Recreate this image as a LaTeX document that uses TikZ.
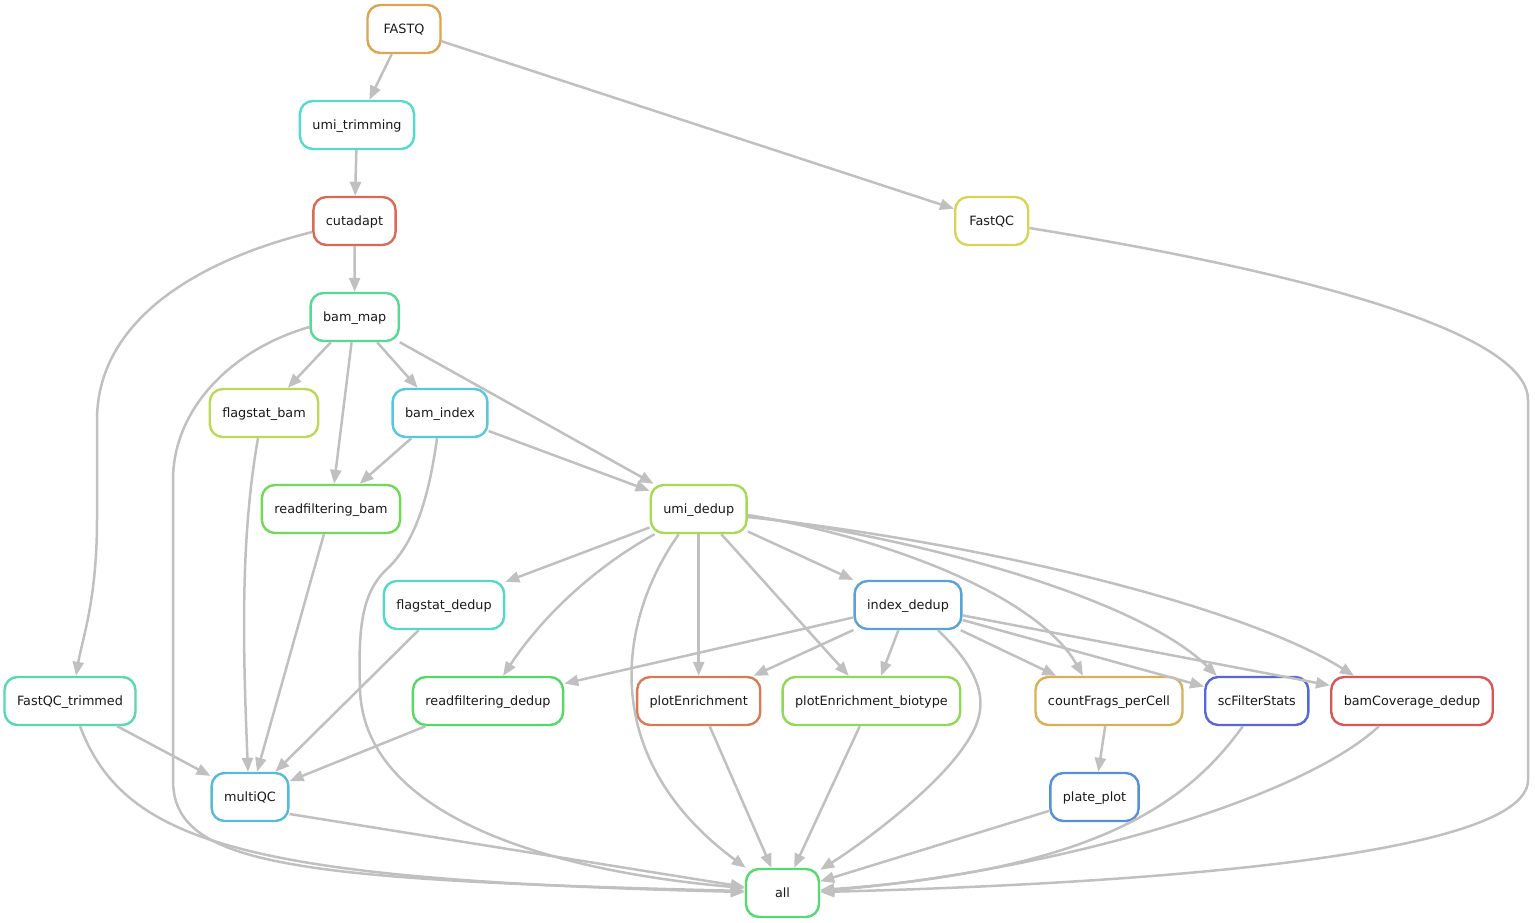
\documentclass[tikz,border=0pt]{standalone}
\usepackage{fontspec}
\setmainfont{DejaVu Sans}
\usetikzlibrary{arrows.meta,calc}
\definecolor{edgegray}{HTML}{C0C0C0}
\definecolor{cFASTQ}{HTML}{DBA552}
\definecolor{cumitrim}{HTML}{56D9CF}
\definecolor{ccutadapt}{HTML}{D96A56}
\definecolor{cFastQC}{HTML}{D9D456}
\definecolor{cbammap}{HTML}{56D994}
\definecolor{cflagbam}{HTML}{BCD956}
\definecolor{cbamindex}{HTML}{56C9D9}
\definecolor{crfbam}{HTML}{72D956}
\definecolor{cumidedup}{HTML}{A6D956}
\definecolor{cflagdedup}{HTML}{56D9C4}
\definecolor{cindexdedup}{HTML}{56A2D9}
\definecolor{cFastQCtrim}{HTML}{56D9AC}
\definecolor{crfdedup}{HTML}{56D964}
\definecolor{cplotenr}{HTML}{D97A56}
\definecolor{cplotbio}{HTML}{90D956}
\definecolor{ccount}{HTML}{D9B056}
\definecolor{cscfilter}{HTML}{5668D9}
\definecolor{cbamcov}{HTML}{D95656}
\definecolor{cmultiqc}{HTML}{56BAD9}
\definecolor{cplate}{HTML}{5690D9}
\definecolor{call}{HTML}{56D970}
\begin{document}
\begin{tikzpicture}[x=1pt,y=-1pt,
  rule/.style={draw=#1, line width=2.4pt, rounded corners=13pt, minimum width=73pt,
    minimum height=48pt, inner xsep=12.5pt, text height=9.3pt, text depth=0pt,
    font=\fontsize{12.8}{15}\selectfont, text=black!90},
  edge/.style={draw=edgegray, line width=2.5pt, -{Triangle[length=14pt,width=11pt]}}]
\useasboundingbox (0,0) rectangle (1535,923);

\node[rule=cFASTQ] (FASTQ) at (404,29) {FASTQ};
\node[rule=cumitrim] (umi_trimming) at (357,125) {umi\_trimming};
\node[rule=ccutadapt] (cutadapt) at (354.5,221) {cutadapt};
\node[rule=cFastQC] (FastQC) at (991.7,221) {FastQC};
\node[rule=cbammap] (bam_map) at (354.7,317) {bam\_map};
\node[rule=cflagbam] (flagstat_bam) at (264,413) {flagstat\_bam};
\node[rule=cbamindex] (bam_index) at (440,413) {bam\_index};
\node[rule=crfbam] (readfiltering_bam) at (331,509) {readfiltering\_bam};
\node[rule=cumidedup] (umi_dedup) at (698.7,509) {umi\_dedup};
\node[rule=cflagdedup] (flagstat_dedup) at (444,605) {flagstat\_dedup};
\node[rule=cindexdedup] (index_dedup) at (908,605) {index\_dedup};
\node[rule=cFastQCtrim] (FastQC_trimmed) at (70,701) {FastQC\_trimmed};
\node[rule=crfdedup] (readfiltering_dedup) at (488,701) {readfiltering\_dedup};
\node[rule=cplotenr] (plotEnrichment) at (698.7,701) {plotEnrichment};
\node[rule=cplotbio] (plotEnrichment_biotype) at (871.4,701) {plotEnrichment\_biotype};
\node[rule=ccount] (countFrags_perCell) at (1109,701) {countFrags\_perCell};
\node[rule=cscfilter] (scFilterStats) at (1256.8,701) {scFilterStats};
\node[rule=cbamcov] (bamCoverage_dedup) at (1412,701) {bamCoverage\_dedup};
\node[rule=cmultiqc] (multiQC) at (250,797) {multiQC};
\node[rule=cplate] (plate_plot) at (1094.5,797) {plate\_plot};
\node[rule=call] (all) at (782.5,893) {all};

% straight edges
\draw[edge] (FASTQ) -- (umi_trimming);
\draw[edge] (FASTQ) -- (FastQC);
\draw[edge] (umi_trimming) -- (cutadapt);
\draw[edge] (cutadapt) -- (bam_map);
\draw[edge] (bam_map) -- (flagstat_bam);
\draw[edge] (bam_map) -- (bam_index);
\draw[edge] (bam_map) -- (readfiltering_bam);
\draw[edge] (bam_map) -- (umi_dedup);
\draw[edge] (bam_index) -- (readfiltering_bam);
\draw[edge] (bam_index) -- (umi_dedup);
\draw[edge] (readfiltering_bam) -- (multiQC);
\draw[edge] (umi_dedup) -- (flagstat_dedup);
\draw[edge] (umi_dedup) -- (plotEnrichment);
\draw[edge] (umi_dedup) -- (plotEnrichment_biotype);
\draw[edge] (umi_dedup) -- (index_dedup);
\draw[edge] (index_dedup) -- (readfiltering_dedup);
\draw[edge] (index_dedup) -- (plotEnrichment);
\draw[edge] (index_dedup) -- (plotEnrichment_biotype);
\draw[edge] (index_dedup) -- (countFrags_perCell);
\draw[edge] (index_dedup) -- (scFilterStats);
\draw[edge] (index_dedup) -- (bamCoverage_dedup);
\draw[edge] (flagstat_dedup) -- (multiQC);
\draw[edge] (readfiltering_dedup) -- (multiQC);
\draw[edge] (FastQC_trimmed) -- (multiQC);
\draw[edge] ($(multiQC.east)+(0,17)$) -- (all);
\draw[edge] (plotEnrichment) -- (all);
\draw[edge] (plotEnrichment_biotype) -- (all);
\draw[edge] (countFrags_perCell) -- (plate_plot);
\draw[edge] (plate_plot) -- (all);

% curved edges
\draw[edge] ($(cutadapt.west)+(0,11)$) .. controls (180,265) and (97,330) .. (97,420)
  -- (97,520) .. controls (97,600) and (82,640) .. ($(FastQC_trimmed.north)+(6,0)$);
\draw[edge] ($(bam_map.west)+(0,10)$) .. controls (230,350) and (173,410) .. (173,480)
  -- (173,780) .. controls (173,865) and (290,880) .. ($(all.west)+(0,-2)$);
\draw[edge] ($(flagstat_bam.south)+(-6,0)$) .. controls (240,540) and (243,650) .. ($(multiQC.north)+(-2,0)$);
\draw[edge] ($(bam_index.south)+(-3,0)$) .. controls (428,505) and (412,545) .. (388,568)
  .. controls (362,592) and (358,625) .. (360,690)
  .. controls (365,820) and (560,872) .. ($(all.west)+(0,-5)$);
\draw[edge] ($(umi_dedup.south west)+(5,0)$) .. controls (590,570) and (540,620) .. ($(readfiltering_dedup.north)+(15,0)$);
\draw[edge] ($(umi_dedup.south)+(-20,0)$) .. controls (615,625) and (600,760) .. ($(all.north west)+(1,0)$);
\draw[edge] ($(umi_dedup.east)+(0,6)$) .. controls (900,540) and (1040,600) .. ($(countFrags_perCell.north)+(-26,0)$);
\draw[edge] ($(umi_dedup.east)+(0,7)$) .. controls (930,540) and (1140,600) .. ($(scFilterStats.north)+(-40,0)$);
\draw[edge] ($(umi_dedup.east)+(0,8)$) .. controls (1000,545) and (1250,610) .. ($(bamCoverage_dedup.north)+(-58,0)$);
\draw[edge] ($(index_dedup.south)+(30,0)$) .. controls (990,680) and (988,712) .. (965,745)
  .. controls (935,790) and (860,845) .. ($(all.north east)+(0,2)$);
\draw[edge] ($(FastQC_trimmed.south)+(10,0)$) .. controls (125,845) and (250,880) .. ($(all.west)+(0,-1)$);
\draw[edge] ($(scFilterStats.south)+(-14,0)$) .. controls (1190,800) and (1100,870) .. ($(all.east)+(0,-3)$);
\draw[edge] ($(bamCoverage_dedup.south)+(-33,0)$) .. controls (1300,800) and (1050,872) .. ($(all.east)+(0,-2)$);
\draw[edge] ($(FastQC.east)+(0,7)$) .. controls (1350,280) and (1528,340) .. (1528,400)
  -- (1528,780) .. controls (1528,860) and (1100,885) .. ($(all.east)+(0,-1)$);
\end{tikzpicture}
\end{document}
